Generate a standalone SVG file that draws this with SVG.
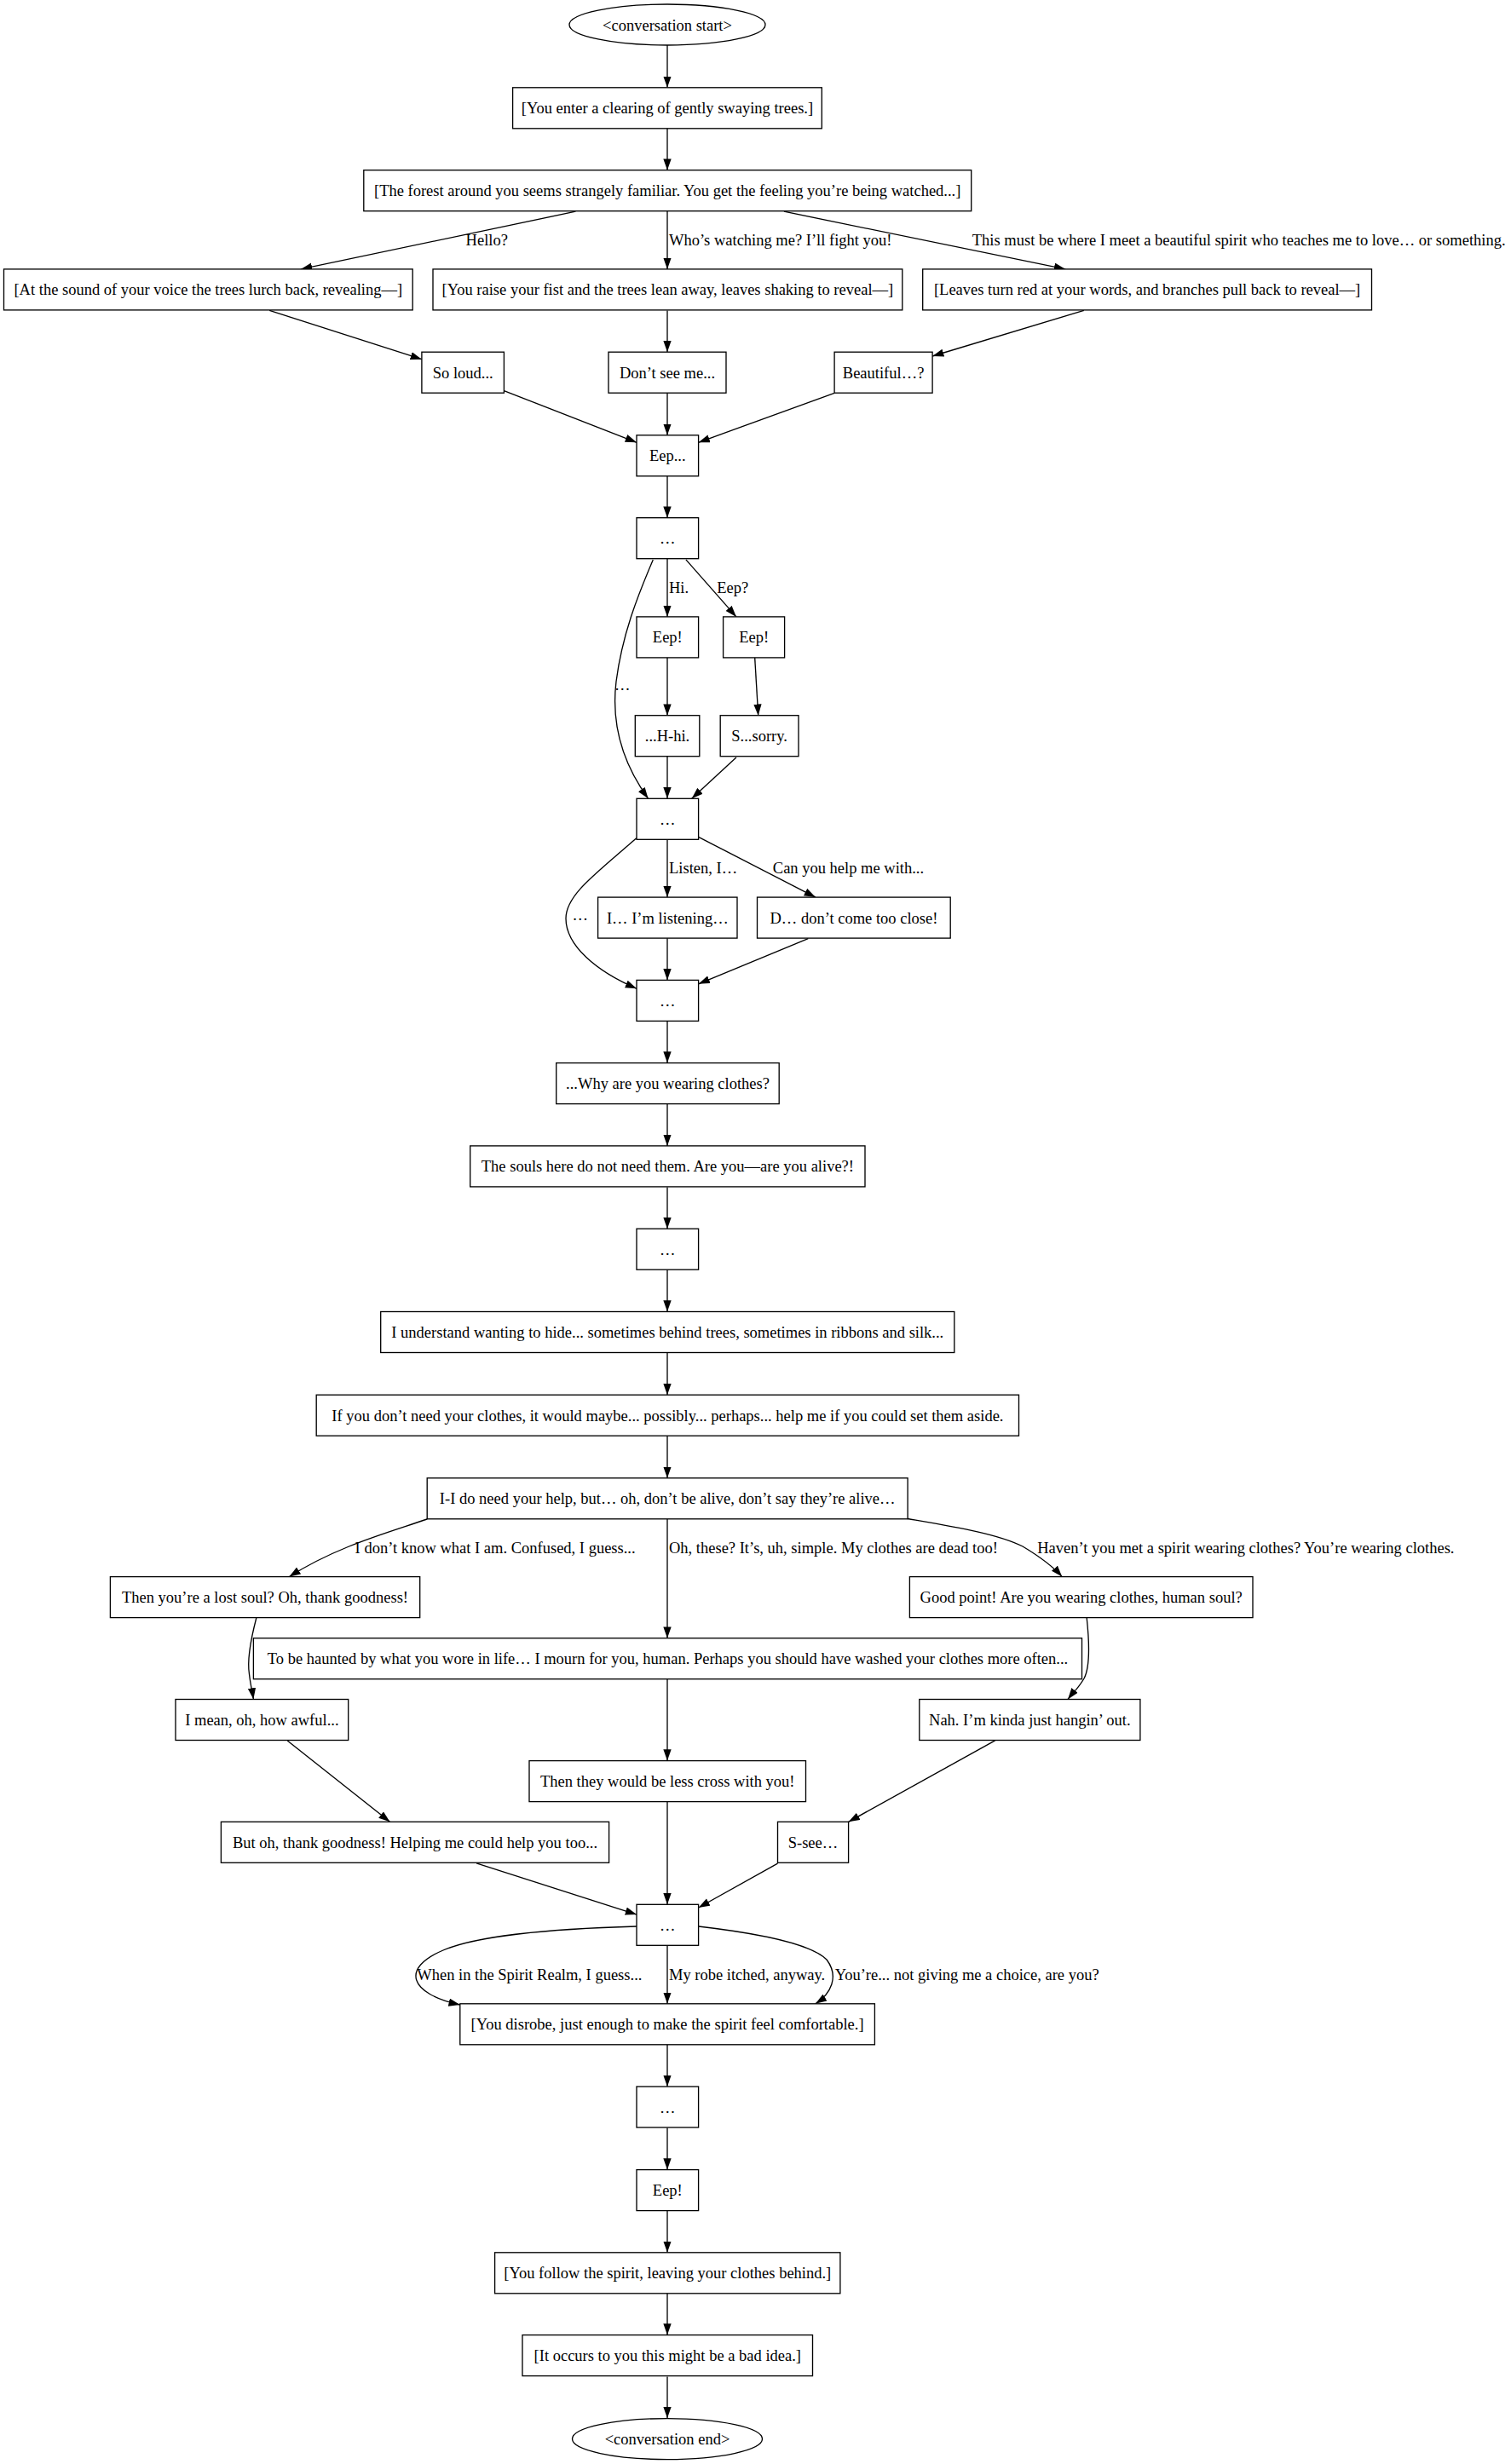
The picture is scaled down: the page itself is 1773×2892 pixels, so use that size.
<svg xmlns="http://www.w3.org/2000/svg" width="1773" height="2892" viewBox="0 0 1773 2892">
<style>
text{font-family:"Liberation Serif","Times New Roman",serif;font-size:18.5px;fill:#000}
.n rect,.n ellipse{fill:#fff;stroke:#000;stroke-width:1.33}
.n text{text-anchor:middle}
.l text{text-anchor:start}
.e path{fill:none;stroke:#000;stroke-width:1.33;marker-end:url(#arr)}
</style>
<defs>
<marker id="arr" markerUnits="userSpaceOnUse" markerWidth="14" markerHeight="10" refX="13.3" refY="4.67" orient="auto"><path d="M0,0 L13.3,4.67 L0,9.33 z" fill="#000"/></marker>
</defs>
<rect width="1773" height="2892" fill="#fff"/>
<g id="connectors" class="e">
<path d="M783,53 L783,102.8"/>
<path d="M783,150.5 L783,199.7"/>
<path d="M675.4,248.2 L353,315.9"/>
<path d="M783,247.8 L783,315.9"/>
<path d="M919.9,248.2 L1250.2,315.9"/>
<path d="M316.2,364.4 L494.9,421.7"/>
<path d="M783,364.4 L783,413.2"/>
<path d="M1271.8,364.4 L1094.1,418"/>
<path d="M591.4,458.7 L747,519.3"/>
<path d="M783,461.3 L783,510.8"/>
<path d="M979.1,461.3 L819.6,519.3"/>
<path d="M783,558.6 L783,607.7"/>
<path d="M783,655.8 L783,723.9"/>
<path d="M804.9,656.9 L863.9,723.9"/>
<path d="M766.3,656.9 C748,700 730,745 723,800 C717,850 730,895 760.6,937.3"/>
<path d="M783,772 L783,839.7"/>
<path d="M885.7,772 L889.7,839.7"/>
<path d="M783,887.8 L783,937.3"/>
<path d="M863.9,888.9 L811.7,937.3"/>
<path d="M783,985.4 L783,1053.1"/>
<path d="M819.6,982.4 L956.9,1053.1"/>
<path d="M747,983.6 C700,1025 664,1050 664,1078 C664,1110 700,1140 747,1160.3"/>
<path d="M783,1101.2 L783,1150.4"/>
<path d="M948.3,1101.6 L819.6,1154.8"/>
<path d="M783,1198.4 L783,1247.6"/>
<path d="M783,1295.7 L783,1344.9"/>
<path d="M783,1393.4 L783,1442.2"/>
<path d="M783,1490.3 L783,1539.5"/>
<path d="M783,1588 L783,1637.2"/>
<path d="M783,1685.2 L783,1734.8"/>
<path d="M501.2,1783 C455,1799 395,1815 339.4,1850.6"/>
<path d="M783,1782.5 L783,1922.7"/>
<path d="M1065,1782.5 C1120,1792 1170,1800 1200,1815 C1220,1827 1235,1838 1246.2,1850.6"/>
<path d="M300.8,1899 C294,1925 290,1950 292.5,1965 C294,1978 296,1985 297.4,1994.5"/>
<path d="M1275.2,1899 C1278,1925 1280,1955 1272,1970 C1265,1982 1258,1988 1253,1994.5"/>
<path d="M783,1970.4 L783,2066.6"/>
<path d="M337.2,2042.9 L457.5,2138.3"/>
<path d="M1167.6,2042.9 L995.6,2138.3"/>
<path d="M783,2114.7 L783,2235.3"/>
<path d="M559.1,2186.8 L747,2247.1"/>
<path d="M912.5,2187.2 L819.6,2239"/>
<path d="M747,2261 C640,2264 560,2272 520,2289 C470,2310 480,2340 539.8,2353"/>
<path d="M783,2283.3 L783,2351.8"/>
<path d="M819.6,2261 C880,2268 950,2280 970,2300 C985,2320 975,2340 956.9,2351.8"/>
<path d="M783,2399.8 L783,2449"/>
<path d="M783,2497.4 L783,2546.6"/>
<path d="M783,2594.2 L783,2643.8"/>
<path d="M783,2691.8 L783,2740.6"/>
<path d="M783,2789.4 L783,2838.2"/>
</g>
<g id="edge-labels" class="l">
<text x="546.6" y="288">Hello?</text>
<text x="785" y="288">Who’s watching me? I’ll fight you!</text>
<text x="1140.8" y="288">This must be where I meet a beautiful spirit who teaches me to love… or something.</text>
<text x="785" y="695.5">Hi.</text>
<text x="841.2" y="695.5">Eep?</text>
<text x="721" y="810">…</text>
<text x="785" y="1025">Listen, I…</text>
<text x="906.8" y="1025">Can you help me with...</text>
<text x="671.5" y="1079.5">…</text>
<text x="416.6" y="1822.5">I don’t know what I am. Confused, I guess...</text>
<text x="785" y="1822.5">Oh, these? It’s, uh, simple. My clothes are dead too!</text>
<text x="1217.2" y="1822.5">Haven’t you met a spirit wearing clothes? You’re wearing clothes.</text>
<text x="489.3" y="2324">When in the Spirit Realm, I guess...</text>
<text x="785" y="2324">My robe itched, anyway.</text>
<text x="979.7" y="2324">You’re... not giving me a choice, are you?</text>
</g>
<g id="n_start" class="n"><ellipse cx="783" cy="29" rx="115" ry="24"/><text x="783" y="35.5">&lt;conversation start&gt;</text></g>
<g id="n1" class="n"><rect x="601.6" y="102.8" width="362.7" height="48"/><text x="783" y="133.3">[You enter a clearing of gently swaying trees.]</text></g>
<g id="n2" class="n"><rect x="426.8" y="199.7" width="712.9" height="48"/><text x="783.2" y="230.2">[The forest around you seems strangely familiar. You get the feeling you’re being watched...]</text></g>
<g id="n3a" class="n"><rect x="4.5" y="315.9" width="479.7" height="48"/><text x="244.3" y="346.4">[At the sound of your voice the trees lurch back, revealing—]</text></g>
<g id="n3b" class="n"><rect x="508" y="315.9" width="550.8" height="48"/><text x="783.4" y="346.4">[You raise your fist and the trees lean away, leaves shaking to reveal—]</text></g>
<g id="n3c" class="n"><rect x="1082.7" y="315.9" width="526.8" height="48"/><text x="1346.1" y="346.4">[Leaves turn red at your words, and branches pull back to reveal—]</text></g>
<g id="n4a" class="n"><rect x="494.9" y="413.2" width="96.5" height="48"/><text x="543.2" y="443.7">So loud...</text></g>
<g id="n4b" class="n"><rect x="714" y="413.2" width="138" height="48"/><text x="783" y="443.7">Don’t see me...</text></g>
<g id="n4c" class="n"><rect x="979.1" y="413.2" width="115" height="48"/><text x="1036.6" y="443.7">Beautiful…?</text></g>
<g id="n5" class="n"><rect x="747" y="510.8" width="72.6" height="48"/><text x="783.3" y="541.3">Eep...</text></g>
<g id="n6" class="n"><rect x="747" y="607.7" width="72.6" height="48"/><text x="783.3" y="638.2">…</text></g>
<g id="n7a" class="n"><rect x="747" y="723.9" width="72.6" height="48"/><text x="783.3" y="754.4">Eep!</text></g>
<g id="n7b" class="n"><rect x="848.6" y="723.9" width="72" height="48"/><text x="884.6" y="754.4">Eep!</text></g>
<g id="n8a" class="n"><rect x="745.3" y="839.7" width="75.5" height="48"/><text x="783" y="870.2">...H-hi.</text></g>
<g id="n8b" class="n"><rect x="845.2" y="839.7" width="91.8" height="48"/><text x="891.1" y="870.2">S...sorry.</text></g>
<g id="n9" class="n"><rect x="747" y="937.3" width="72.6" height="48"/><text x="783.3" y="967.8">…</text></g>
<g id="n10a" class="n"><rect x="701.6" y="1053.1" width="163.4" height="48"/><text x="783.3" y="1083.6">I… I’m listening…</text></g>
<g id="n10b" class="n"><rect x="888.5" y="1053.1" width="226.7" height="48"/><text x="1001.9" y="1083.6">D… don’t come too close!</text></g>
<g id="n11" class="n"><rect x="747" y="1150.4" width="72.6" height="48"/><text x="783.3" y="1180.9">…</text></g>
<g id="n12" class="n"><rect x="652.7" y="1247.6" width="261.5" height="48"/><text x="783.5" y="1278.1">...Why are you wearing clothes?</text></g>
<g id="n13" class="n"><rect x="551.7" y="1344.9" width="463.3" height="48"/><text x="783.4" y="1375.4">The souls here do not need them. Are you—are you alive?!</text></g>
<g id="n14" class="n"><rect x="747" y="1442.2" width="72.6" height="48"/><text x="783.3" y="1472.7">…</text></g>
<g id="n15" class="n"><rect x="446.7" y="1539.5" width="673.1" height="48"/><text x="783.3" y="1570">I understand wanting to hide... sometimes behind trees, sometimes in ribbons and silk...</text></g>
<g id="n16" class="n"><rect x="371.2" y="1637.2" width="824.3" height="48"/><text x="783.4" y="1667.7">If you don’t need your clothes, it would maybe... possibly... perhaps... help me if you could set them aside.</text></g>
<g id="n17" class="n"><rect x="501.2" y="1734.8" width="563.9" height="48"/><text x="783.2" y="1765.3">I-I do need your help, but… oh, don’t be alive, don’t say they’re alive…</text></g>
<g id="n18a" class="n"><rect x="129.4" y="1850.6" width="363.3" height="48"/><text x="311" y="1881.1">Then you’re a lost soul? Oh, thank goodness!</text></g>
<g id="n18b" class="n"><rect x="1067.4" y="1850.6" width="402.6" height="48"/><text x="1268.7" y="1881.1">Good point! Are you wearing clothes, human soul?</text></g>
<g id="n19" class="n"><rect x="297.4" y="1922.7" width="972.1" height="48"/><text x="783.5" y="1953.2">To be haunted by what you wore in life… I mourn for you, human. Perhaps you should have washed your clothes more often...</text></g>
<g id="n20a" class="n"><rect x="206" y="1994.5" width="202.7" height="48"/><text x="307.4" y="2025">I mean, oh, how awful...</text></g>
<g id="n20b" class="n"><rect x="1078.8" y="1994.5" width="259.1" height="48"/><text x="1208.3" y="2025">Nah. I’m kinda just hangin’ out.</text></g>
<g id="n21" class="n"><rect x="621" y="2066.6" width="324.5" height="48"/><text x="783.2" y="2097.1">Then they would be less cross with you!</text></g>
<g id="n22a" class="n"><rect x="259.4" y="2138.3" width="455.2" height="48"/><text x="487" y="2168.8">But oh, thank goodness! Helping me could help you too...</text></g>
<g id="n22b" class="n"><rect x="912.5" y="2138.3" width="83.1" height="48"/><text x="954" y="2168.8">S-see…</text></g>
<g id="n23" class="n"><rect x="747" y="2235.3" width="72.6" height="48"/><text x="783.3" y="2265.8">…</text></g>
<g id="n24" class="n"><rect x="539.8" y="2351.8" width="486.6" height="48"/><text x="783.1" y="2382.3">[You disrobe, just enough to make the spirit feel comfortable.]</text></g>
<g id="n25" class="n"><rect x="747" y="2449" width="72.6" height="48"/><text x="783.3" y="2479.5">…</text></g>
<g id="n26" class="n"><rect x="747" y="2546.6" width="72.6" height="48"/><text x="783.3" y="2577.1">Eep!</text></g>
<g id="n27" class="n"><rect x="580.6" y="2643.8" width="405.3" height="48"/><text x="783.3" y="2674.3">[You follow the spirit, leaving your clothes behind.]</text></g>
<g id="n28" class="n"><rect x="613" y="2740.6" width="340.5" height="48"/><text x="783.3" y="2771.1">[It occurs to you this might be a bad idea.]</text></g>
<g id="n_end" class="n"><ellipse cx="783" cy="2862.6" rx="111.5" ry="24"/><text x="783" y="2869.1">&lt;conversation end&gt;</text></g>
</svg>
